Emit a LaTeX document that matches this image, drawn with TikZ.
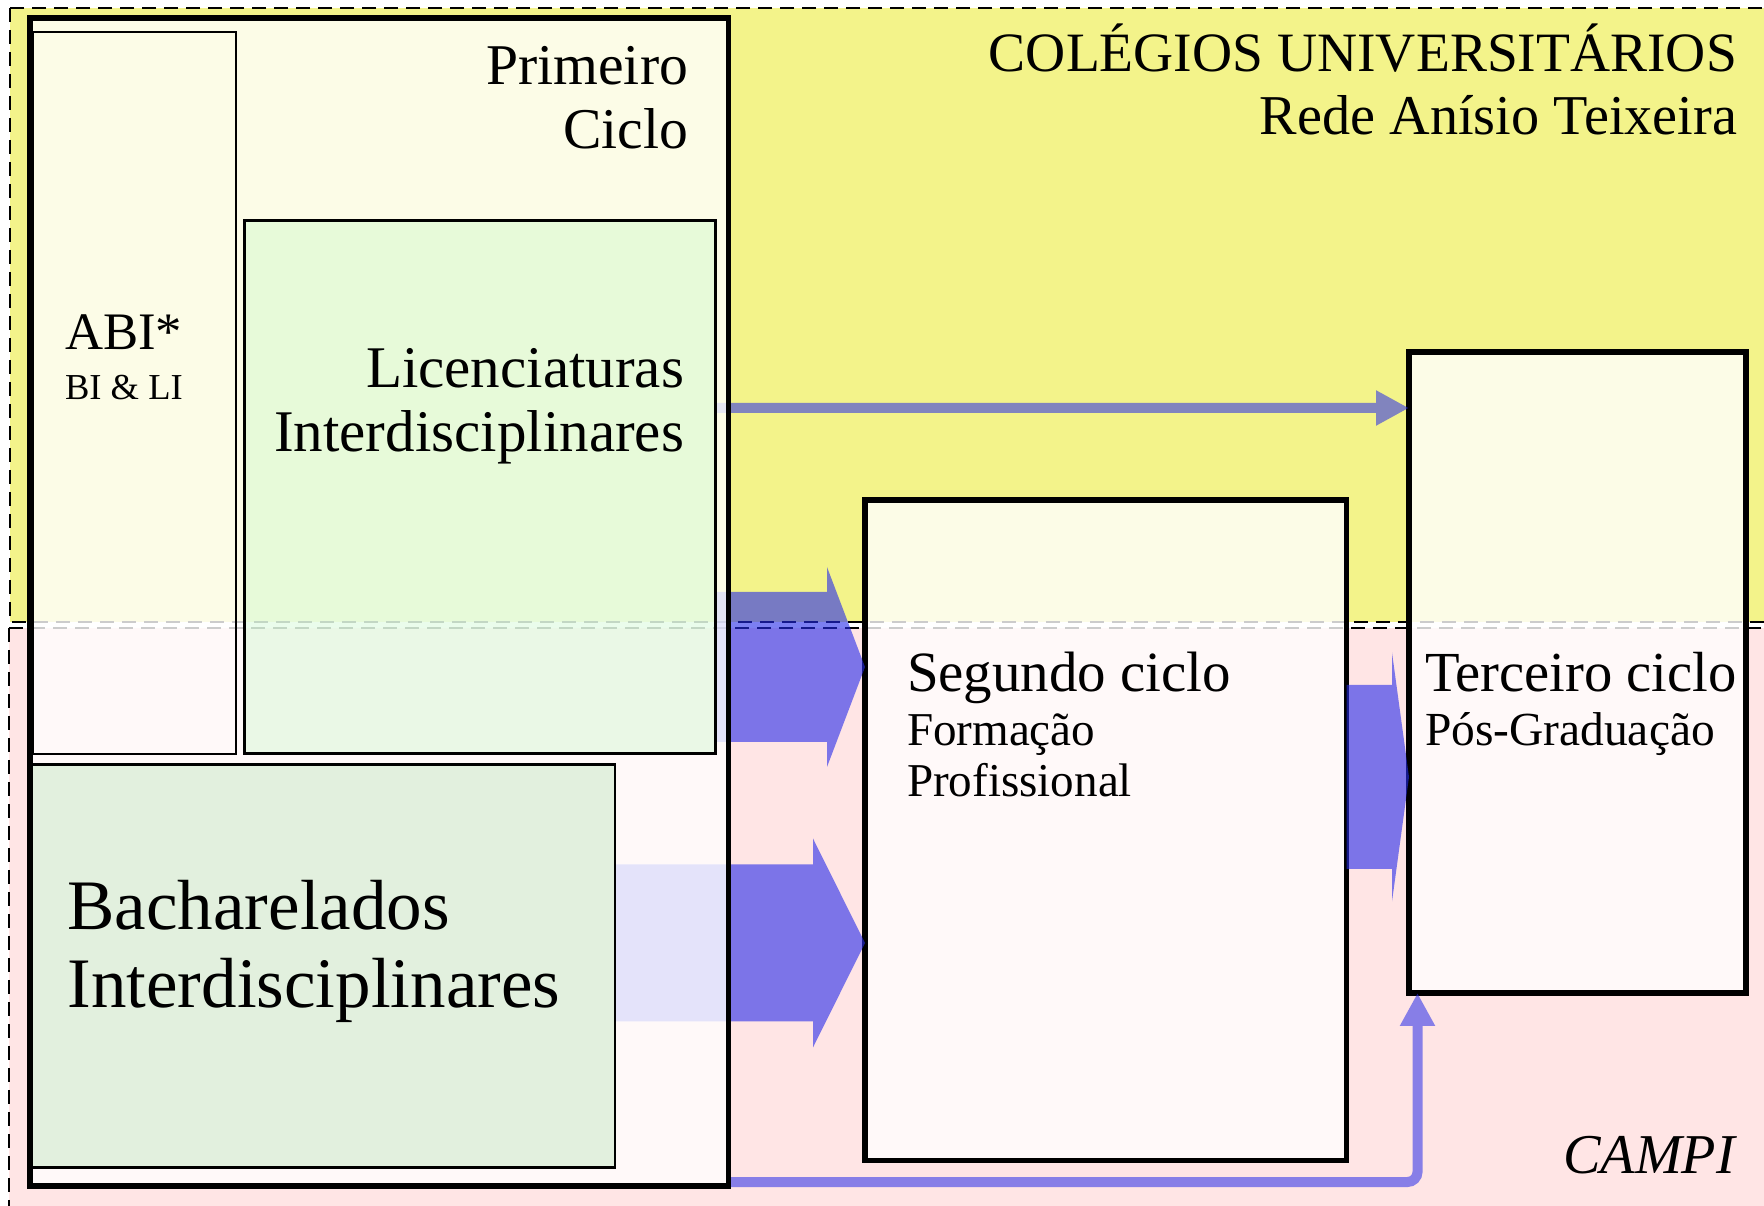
\documentclass[tikz,border=0pt]{standalone}
\usepackage{fontspec}
\setmainfont{Liberation Serif}
\usetikzlibrary{calc,arrows.meta}
\pgfdeclarelayer{back}
\pgfdeclarelayer{flow}
\pgfsetlayers{back,flow,main}
\definecolor{campiyellow}{RGB}{243,243,138}
\definecolor{campipink}{RGB}{255,229,229}
\definecolor{licgreen}{RGB}{172,248,176}
\definecolor{bachgreen}{RGB}{226,240,222}
\definecolor{flowblue}{RGB}{37,42,234}
% start, tip, half shaft, half head, head length
\newcommand{\blockarrow}[5]{%
\fill[flowbig] ($(#1)+(0,-#3)$) -- ($(#2)+(-#5,-#3)$) -- ($(#2)+(-#5,-#4)$) -- (#2)
  -- ($(#2)+(-#5,#4)$) -- ($(#2)+(-#5,#3)$) -- ($(#1)+(0,#3)$) -- cycle;}

\begin{document}
\begin{tikzpicture}[%
x=0.1mm, y=-0.1mm,
region/.style={draw=black, line width=0.4pt, dash pattern=on 1.4mm off 0.8mm},
cyclebox/.style={draw=black, line width=1.6pt, fill=white, fill opacity=0.8, inner sep=0pt, outer sep=0pt, anchor=north west},
subbox/.style={draw=black, line width=0.6pt, inner sep=0pt, outer sep=0pt, anchor=north west},
flowbig/.style={fill=flowblue, fill opacity=0.6},
flowthin/.style={draw=flowblue, line width=1mm, -{Triangle[length=3.3mm,width=3.3mm]}},
txt/.style={inner sep=0pt, outer sep=0pt, font={\fontsize{#1}{#1}\selectfont}},
]
\useasboundingbox (0,0) rectangle (1764,1206);
%% regions;
\begin{pgfonlayer}{back}
\fill[campiyellow] (10,8) rectangle (1790,622);
\draw[region] (10,8) rectangle (1790,622);
\fill[campipink] (9,628) rectangle (1790,1230);
\draw[region] (9,628) rectangle (1790,1230);
%% cycles;
\node[cyclebox, minimum width=48.15mm, minimum height=66.05mm] (seg) at (865,500) {};
\node[cyclebox, minimum width=33.7mm, minimum height=64.1mm] (ter) at (1409,352) {};
\end{pgfonlayer}
%% primeiro ciclo;
\node[cyclebox, minimum width=69.85mm, minimum height=116.8mm] (prim) at (30,18) {};
\node[subbox, minimum width=20.3mm, minimum height=72.2mm] (abi) at (33,32) {};
\node[subbox, fill=licgreen, fill opacity=0.25, minimum width=47.1mm, minimum height=53.3mm] (lic) at (244.5,220.5) {};
\node[subbox, fill=bachgreen, minimum width=58.35mm, minimum height=40.3mm] (bach) at (31.5,764.5) {};
%% flows;
\begin{pgfonlayer}{flow}
\coordinate (u0) at (lic.east |- 0,667);
\coordinate (u1) at (seg.west |- 0,667);
\blockarrow{u0}{u1}{75}{100}{38}
\coordinate (m0) at (bach.east |- 0,943);
\coordinate (m1) at (seg.west |- 0,943);
\blockarrow{m0}{m1}{78.5}{104.5}{52}
\coordinate (r0) at (seg.east |- 0,777);
\coordinate (r1) at (ter.west |- 0,777);
\blockarrow{r0}{r1}{92}{124.5}{17}
\coordinate (t0) at (lic.east |- 0,408);
\begin{scope}[transparency group, opacity=0.55]
\draw[flowthin] (t0) -- (ter.west |- t0);
\end{scope}
\coordinate (b0) at (prim.east |- 0,1182);
\coordinate (b1) at ($(ter.south west)+(8.5,0)$);
\begin{scope}[transparency group, opacity=0.55]
\draw[flowthin, rounded corners=1mm] (b0) -| (b1);
\end{scope}
\end{pgfonlayer}
%% labels;
\node[txt=15.8, anchor=base east] (colegios) at (1737,72) {COLÉGIOS UNIVERSITÁRIOS};
\node[txt=16, anchor=base east] (rede) at (1737,135) {Rede Anísio Teixeira};
\node[txt=16.4, anchor=base east] (primeiro) at (688,85) {Primeiro};
\node[txt=16.4, anchor=base east] (ciclo) at (688,149) {Ciclo};
\node[txt=15, anchor=base west] (abitxt) at (65,350) {ABI*};
\node[txt=10.4, anchor=base west] (bili) at (65,400) {BI \& LI};
\node[txt=16.8, anchor=base east] (lictxt) at (684,388) {Licenciaturas};
\node[txt=16.8, anchor=base east] (licint) at (684,452) {Interdisciplinares};
\node[txt=20.2, anchor=base west] (bachtxt) at (67.5,930) {Bacharelados};
\node[txt=20.2, anchor=base west] (bachint) at (67.5,1007) {Interdisciplinares};
\node[txt=16.2, anchor=base west] (segtxt) at (907,692) {Segundo ciclo};
\node[txt=13.4, anchor=base west] (formacao) at (907,746) {Formação};
\node[txt=13.4, anchor=base west] (profissional) at (907,797) {Profissional};
\node[txt=16.1, anchor=base west] (tertxt) at (1425,692) {Terceiro ciclo};
\node[txt=13.5, anchor=base west] (posgrad) at (1425,746) {Pós-Graduação};
\node[txt=16, anchor=base east, font={\fontsize{16}{16}\selectfont\itshape}] (campi) at (1735,1174) {CAMPI};
\end{tikzpicture}
\end{document}
